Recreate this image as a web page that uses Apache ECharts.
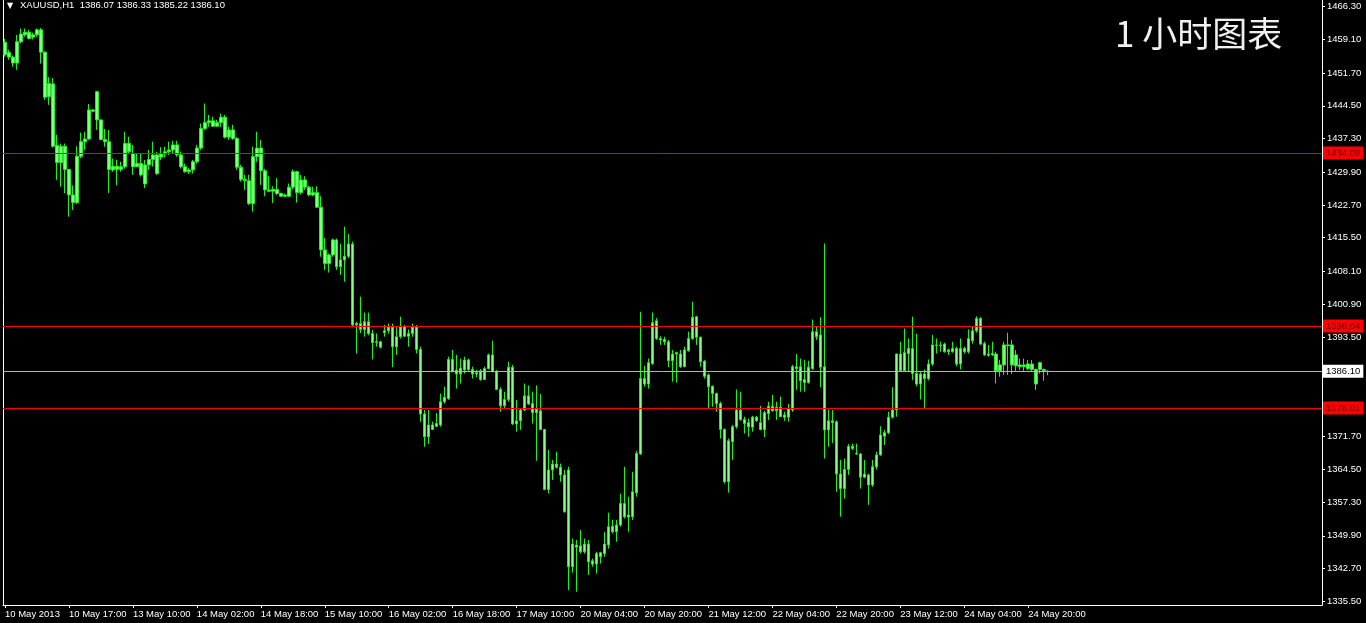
<!DOCTYPE html>
<html>
<head>
<meta charset="utf-8">
<script src="https://cdn.jsdelivr.net/npm/echarts@6/dist/echarts.min.js"></script>
<style>
html,body{margin:0;padding:0;background:#000;}
#chart{width:1366px;height:623px;}
</style>
</head>
<body>
<div id="chart"></div>
<script>
// ---------- DATA ----------
const symbolName = 'XAUUSD,H1';
const chartTitle = '1 小时图表';
const totalSlots = 330; // bars + right-side chart shift
const xTickLabels = ['10 May 2013','10 May 17:00','13 May 10:00','14 May 02:00','14 May 18:00','15 May 10:00','16 May 02:00','16 May 18:00','17 May 10:00','20 May 04:00','20 May 20:00','21 May 12:00','22 May 04:00','22 May 20:00','23 May 12:00','24 May 04:00','24 May 20:00'];
const yTickValues = [1466.30,1459.10,1451.70,1444.50,1437.30,1429.90,1422.70,1415.50,1408.10,1400.90,1393.50,1378.10,1371.70,1364.50,1357.30,1349.90,1342.70,1335.50];
const redLevels = [1434.09, 1396.04, 1378.01];
// [open, close, low, high]
const ohlcBars = [
[1458.5,1455.7,1455.3,1459.2],[1456.2,1455.2,1454.6,1456.8],[1455.2,1453.9,1453.1,1455.5],[1453.9,1458.6,1452.4,1460.1],
[1458.6,1460.3,1458.3,1461.5],[1460.1,1460.7,1459.7,1461.5],[1460.7,1459.3,1459.1,1461.2],[1459.6,1460.1,1459.1,1460.6],
[1460.1,1461.2,1459.7,1461.5],[1461.2,1456.3,1453.8,1461.6],[1456.3,1446.4,1445.8,1456.5],[1446.5,1449.4,1444.7,1450.8],
[1449.3,1435.6,1435.3,1450.6],[1435.8,1432.0,1428.2,1438.1],[1432.0,1435.6,1426.7,1436.2],[1435.6,1430.5,1425.3,1436.2],
[1430.5,1424.9,1420.1,1430.6],[1424.9,1423.2,1421.6,1427.0],[1423.2,1433.4,1422.9,1435.6],[1433.4,1436.6,1433.0,1438.6],
[1436.6,1437.2,1434.8,1438.8],[1437.2,1443.6,1437.0,1444.9],[1443.6,1443.3,1443.1,1443.8],[1447.6,1441.4,1439.2,1447.8],
[1441.4,1437.1,1436.9,1441.5],[1437.1,1436.6,1435.5,1439.4],[1436.6,1430.5,1425.3,1439.2],[1430.4,1431.2,1430.0,1432.9],
[1431.2,1430.5,1427.0,1432.6],[1430.5,1431.1,1430.0,1432.2],[1431.1,1436.2,1430.7,1438.8],[1436.2,1434.4,1434.0,1437.7],
[1434.0,1431.1,1429.3,1435.9],[1431.1,1431.8,1431.0,1434.0],[1431.8,1429.3,1428.9,1434.0],[1427.3,1431.5,1426.4,1432.6],
[1431.5,1432.7,1430.4,1434.8],[1432.7,1433.7,1431.1,1436.6],[1433.7,1429.6,1429.3,1434.4],[1433.2,1433.9,1432.6,1435.4],
[1433.9,1434.4,1433.2,1435.5],[1434.4,1434.8,1433.7,1436.6],[1434.8,1435.9,1434.0,1436.8],[1435.9,1433.7,1433.3,1436.8],
[1433.7,1431.1,1430.7,1434.4],[1431.1,1430.0,1429.8,1431.8],[1430.0,1430.4,1429.5,1430.8],[1430.4,1432.2,1429.6,1432.6],
[1432.2,1435.2,1431.8,1435.9],[1435.2,1439.5,1434.8,1440.6],[1439.5,1440.8,1439.2,1445.0],[1440.8,1441.2,1439.9,1442.5],
[1441.2,1440.0,1439.9,1442.1],[1440.0,1440.8,1439.9,1441.4],[1440.8,1442.0,1439.9,1442.8],[1442.0,1437.6,1437.3,1442.5],
[1437.6,1439.2,1437.0,1439.9],[1439.2,1437.3,1437.0,1440.3],[1437.3,1431.0,1430.4,1437.6],[1431.0,1428.3,1427.8,1431.5],
[1428.3,1428.0,1426.0,1429.3],[1428.0,1423.0,1422.7,1429.3],[1423.0,1433.3,1421.2,1435.5],[1433.3,1435.2,1432.2,1438.8],
[1435.2,1430.2,1427.1,1437.0],[1430.2,1426.0,1424.6,1430.6],[1426.0,1425.7,1425.5,1429.0],[1425.7,1426.1,1423.1,1426.8],
[1426.1,1425.2,1424.9,1428.6],[1425.2,1424.6,1424.5,1425.4],[1424.6,1424.9,1424.4,1425.2],[1424.6,1426.6,1424.4,1427.4],
[1426.6,1430.0,1426.1,1430.5],[1430.0,1425.4,1423.2,1430.2],[1425.4,1428.2,1425.0,1429.3],[1428.2,1426.6,1426.0,1429.0],
[1426.6,1424.9,1424.6,1426.9],[1424.9,1425.4,1424.6,1426.7],[1425.4,1422.2,1422.0,1426.8],[1422.2,1412.8,1411.3,1424.6],
[1412.8,1409.8,1408.4,1415.4],[1409.8,1411.7,1407.8,1412.0],[1411.7,1415.0,1411.3,1415.3],[1415.0,1409.1,1408.4,1415.3],
[1409.1,1410.6,1407.3,1414.2],[1410.6,1411.4,1405.8,1417.9],[1411.4,1414.1,1411.0,1416.3],[1414.1,1396.3,1395.8,1414.6],
[1396.3,1396.6,1390.0,1397.0],[1396.6,1395.3,1394.5,1402.5],[1395.3,1397.0,1393.7,1399.0],[1397.0,1394.4,1394.0,1399.0],
[1394.4,1392.4,1388.7,1395.2],[1392.4,1392.6,1391.5,1394.4],[1392.6,1391.4,1391.1,1392.8],[1394.6,1395.0,1393.7,1396.3],
[1395.0,1395.8,1394.4,1396.6],[1395.8,1391.5,1387.0,1396.6],[1391.5,1393.7,1389.7,1395.8],[1393.7,1396.0,1393.3,1398.1],
[1396.0,1393.8,1393.7,1396.3],[1393.8,1394.4,1391.5,1395.3],[1394.4,1395.8,1393.7,1396.6],[1395.8,1390.9,1390.0,1396.3],
[1390.9,1376.7,1375.0,1391.5],[1376.7,1371.7,1369.5,1377.6],[1371.7,1374.3,1370.1,1377.6],[1374.3,1373.3,1373.2,1375.0],
[1374.0,1374.6,1373.8,1376.9],[1374.3,1379.4,1373.9,1381.2],[1379.4,1380.4,1379.0,1382.7],[1380.1,1388.7,1379.8,1389.3],
[1388.7,1386.0,1385.9,1390.8],[1386.4,1385.5,1382.3,1389.7],[1385.5,1386.8,1383.4,1388.9],[1386.4,1388.6,1385.6,1389.3],
[1388.6,1386.5,1386.2,1388.9],[1386.5,1385.5,1384.5,1387.1],[1385.5,1385.8,1384.8,1386.4],[1386.2,1384.3,1384.0,1386.6],
[1384.3,1386.7,1384.2,1387.1],[1386.7,1389.7,1386.5,1390.0],[1389.7,1386.0,1385.9,1392.8],[1386.0,1382.1,1382.0,1386.4],
[1382.1,1378.5,1377.2,1382.6],[1378.5,1379.9,1377.9,1381.6],[1379.9,1387.0,1379.4,1388.2],[1387.0,1374.5,1374.3,1387.5],
[1374.5,1375.2,1372.8,1379.8],[1375.2,1377.6,1373.2,1378.0],[1377.6,1380.7,1377.4,1383.4],[1380.7,1378.9,1378.7,1383.0],
[1379.0,1377.0,1374.6,1381.6],[1377.0,1377.8,1366.4,1383.0],[1377.4,1373.3,1373.2,1381.1],[1373.3,1360.1,1360.0,1373.4],
[1360.1,1364.4,1359.2,1368.8],[1364.4,1365.7,1362.2,1366.6],[1365.7,1365.0,1364.7,1368.4],[1365.0,1363.3,1361.8,1365.8],
[1363.3,1355.2,1355.0,1364.4],[1364.4,1343.1,1338.0,1365.1],[1343.1,1348.1,1341.8,1349.3],[1347.9,1347.4,1337.6,1349.0],
[1346.4,1347.7,1346.0,1351.2],[1348.1,1346.4,1346.0,1349.3],[1348.1,1344.2,1341.3,1349.0],[1344.4,1343.7,1343.1,1344.9],
[1343.7,1346.0,1341.6,1346.4],[1345.3,1346.2,1343.8,1346.4],[1346.0,1348.1,1345.3,1350.8],[1347.9,1351.9,1347.1,1355.0],
[1350.8,1352.0,1350.4,1353.4],[1352.3,1350.8,1348.6,1353.4],[1352.3,1357.0,1351.9,1359.2],[1357.0,1354.1,1353.7,1365.1],
[1354.0,1354.5,1350.8,1358.5],[1354.1,1359.6,1353.4,1364.0],[1359.4,1368.0,1358.5,1368.6],[1367.9,1384.5,1367.7,1399.2],
[1384.5,1383.3,1382.7,1387.3],[1383.3,1388.0,1382.3,1388.9],[1387.8,1396.8,1387.5,1399.0],[1397.2,1393.3,1393.0,1397.8],
[1393.3,1393.0,1391.9,1393.8],[1392.6,1393.1,1391.9,1393.7],[1392.6,1388.4,1387.0,1393.0],[1388.4,1389.9,1383.8,1390.8],
[1389.9,1390.2,1383.6,1390.4],[1389.9,1387.1,1386.8,1390.8],[1387.1,1390.8,1387.0,1391.5],[1390.6,1393.3,1390.4,1394.8],
[1393.3,1398.0,1393.0,1401.4],[1398.1,1393.6,1391.9,1398.3],[1393.6,1388.2,1387.1,1393.7],[1388.3,1385.0,1384.5,1388.6],
[1385.3,1382.7,1377.9,1385.6],[1382.8,1381.2,1378.3,1383.0],[1381.2,1379.0,1377.2,1381.4],[1379.0,1373.3,1371.3,1379.4],
[1373.3,1361.8,1361.4,1373.5],[1361.8,1370.8,1359.4,1371.3],[1370.6,1373.9,1366.6,1374.3],[1373.9,1377.6,1373.5,1382.1],
[1377.6,1375.5,1375.2,1381.6],[1375.5,1374.6,1372.4,1376.1],[1374.8,1373.9,1371.7,1375.7],[1373.8,1376.0,1372.8,1376.3],
[1376.0,1375.2,1375.0,1376.3],[1374.8,1373.3,1373.1,1378.5],[1373.3,1377.0,1371.6,1377.4],[1376.8,1378.4,1375.4,1379.4],
[1378.4,1377.4,1377.2,1380.9],[1377.4,1378.2,1375.4,1379.4],[1378.2,1376.1,1376.0,1380.5],[1376.0,1376.5,1375.2,1377.2],
[1376.0,1377.9,1375.0,1378.9],[1377.6,1387.1,1377.2,1387.5],[1387.1,1386.7,1382.0,1389.9],[1387.1,1384.0,1381.6,1388.9],
[1384.3,1383.6,1381.6,1388.6],[1383.6,1387.0,1383.4,1388.4],[1386.7,1394.8,1386.4,1397.5],[1394.8,1393.7,1393.0,1396.0],
[1394.1,1387.0,1382.6,1398.0],[1387.1,1373.2,1366.9,1414.2],[1373.2,1375.2,1369.5,1377.7],[1375.2,1374.8,1370.3,1377.6],
[1375.0,1363.5,1359.6,1375.3],[1363.5,1360.3,1354.1,1366.6],[1360.3,1364.5,1358.1,1366.9],[1364.5,1369.6,1363.3,1370.1],
[1369.6,1369.1,1368.8,1370.2],[1368.0,1367.9,1367.7,1370.2],[1367.9,1362.8,1360.3,1368.1],[1362.8,1363.5,1362.6,1366.6],
[1363.3,1361.1,1356.7,1363.6],[1361.1,1365.1,1360.7,1366.6],[1365.1,1367.7,1364.5,1368.4],[1367.7,1372.1,1367.5,1374.0],
[1371.8,1372.6,1369.9,1373.2],[1372.6,1376.0,1372.3,1377.2],[1376.0,1377.6,1375.7,1382.6],[1377.6,1389.9,1376.1,1390.0],
[1389.9,1386.2,1386.0,1392.6],[1386.2,1390.2,1386.0,1395.5],[1390.0,1391.1,1386.0,1393.3],[1391.1,1385.6,1384.2,1398.1],
[1385.6,1383.3,1382.8,1394.4],[1383.3,1385.5,1379.9,1386.0],[1385.5,1384.5,1377.9,1386.5],[1384.5,1387.7,1384.1,1388.7],
[1387.7,1391.9,1387.3,1394.1],[1391.9,1391.7,1390.0,1393.3],[1391.7,1391.9,1390.4,1392.6],[1392.1,1390.4,1390.2,1392.4],
[1390.4,1390.8,1389.7,1391.1],[1390.4,1391.1,1390.2,1392.6],[1391.1,1387.7,1387.2,1391.5],[1387.7,1391.1,1386.5,1393.3],
[1391.1,1390.4,1390.0,1391.5],[1390.4,1393.3,1390.0,1395.3],[1392.8,1395.0,1392.2,1395.9],[1395.0,1397.7,1394.6,1398.2],
[1397.7,1392.1,1391.9,1398.0],[1392.2,1389.7,1389.5,1392.6],[1389.6,1389.9,1389.3,1391.9],[1389.7,1390.0,1389.5,1392.6],
[1389.9,1386.2,1383.4,1390.4],[1386.2,1387.5,1384.9,1388.6],[1387.5,1391.9,1385.3,1392.6],[1391.9,1391.7,1385.3,1394.6],
[1391.9,1387.5,1385.5,1393.0],[1387.3,1389.7,1386.2,1390.8],[1387.5,1387.1,1386.4,1388.9],[1387.1,1387.5,1386.2,1388.9],
[1386.7,1387.7,1386.4,1388.6],[1387.7,1386.5,1386.2,1388.6],[1386.5,1383.3,1382.0,1386.7],[1386.5,1388.0,1385.6,1388.2],
[1386.5,1386.2,1384.0,1386.7],[1386.07,1386.10,1385.22,1386.33]
];

// ---------- CHART ----------
const categories = [];
for (let i = 0; i < totalSlots; i++) categories.push(String(i));
const last = ohlcBars[ohlcBars.length - 1];
const currentPrice = last[1];
const headerText = symbolName + '  ' + [last[0], last[3], last[2], last[1]].map(v => v.toFixed(2)).join(' ');

const FONT = "'Liberation Sans', 'DejaVu Sans', sans-serif";
const candleGreen = '#1ff01f';
const candleFill = '#86ff86';
const isLabelled = i => i % 16 === 0 && (i / 16) < xTickLabels.length;

const chart = echarts.init(document.getElementById('chart'), null, { renderer: 'canvas' });

// horizontal level lines are laid out with the chart's own y scale
function levelSeries(value, lineColor, boxColor, textColor) {
  return {
    type: 'line',
    yAxisIndex: 0,
    data: [],
    silent: true,
    symbol: 'none',
    z: 5,
    markLine: {
      silent: true,
      animation: false,
      symbol: ['none', 'none'],
      z: 5,
      emphasis: { disabled: true },
      lineStyle: { color: lineColor, width: 1, type: 'solid', opacity: 1 },
      label: {
        show: true, position: 'end', distance: 1,
        fontSize: 9.5, fontFamily: FONT, padding: [2, 3, 1, 3],
        backgroundColor: boxColor, color: textColor,
        formatter: p => Number(p.value).toFixed(2)
      },
      data: [{ yAxis: value }]
    }
  };
}

const series = [{
  type: 'candlestick',
  data: ohlcBars,
  barWidth: 3,
  itemStyle: {
    color: candleFill, color0: candleFill,
    borderColor: candleGreen, borderColor0: candleGreen,
    borderWidth: 1
  }
}];
redLevels.forEach(v => series.push(levelSeries(v, '#ff0000', '#ff0000', '#6a0000')));
series.push(levelSeries(currentPrice, '#b4b4b4', '#ffffff', '#000000'));

chart.setOption({
  backgroundColor: '#000000',
  animation: false,
  grid: { left: 3, right: 44, top: 0, bottom: 18, containLabel: false },
  xAxis: {
    type: 'category',
    data: categories,
    boundaryGap: true,
    axisLine: { show: true, onZero: false, lineStyle: { color: '#ffffff', width: 1 } },
    axisTick: { show: true, interval: (i) => isLabelled(i), alignWithLabel: true, length: 3, lineStyle: { color: '#ffffff' } },
    axisLabel: {
      interval: (i) => isLabelled(i), align: 'left', margin: 4, color: '#ffffff', fontSize: 9.5, fontFamily: FONT,
      formatter: (v, i) => isLabelled(i) ? xTickLabels[i / 16] : ''
    },
    splitLine: { show: false }
  },
  yAxis: [{
    type: 'value',
    position: 'right',
    min: 1334.69,
    max: 1467.77,
    axisLine: { show: true, onZero: false, lineStyle: { color: '#ffffff', width: 1 } },
    axisTick: { show: true, length: 3, customValues: yTickValues, lineStyle: { color: '#ffffff' } },
    axisLabel: {
      customValues: yTickValues, color: '#ffffff', fontSize: 9.5, fontFamily: FONT, margin: 5,
      formatter: v => Number(v).toFixed(2)
    },
    splitLine: { show: false },
    splitArea: { show: false }
  }, {
    type: 'value',
    position: 'left',
    min: 1334.69,
    max: 1467.77,
    axisLine: { show: true, onZero: false, lineStyle: { color: '#ffffff', width: 1 } },
    axisTick: { show: false },
    axisLabel: { show: false },
    splitLine: { show: false },
    splitArea: { show: false }
  }],
  series: series,
  graphic: [
    { type: 'text', left: 7, top: 2, style: { text: '▼', fill: '#ffffff', font: "8px 'DejaVu Sans'" } },
    { type: 'text', left: 20, top: 0, style: { text: headerText, fill: '#ffffff', font: "9.5px " + FONT } },
    { type: 'text', left: 1115, top: 16, style: { text: chartTitle, fill: '#f0f0f0', font: "35px 'Noto Sans CJK SC'" } }
  ]
});
</script>
</body>
</html>
